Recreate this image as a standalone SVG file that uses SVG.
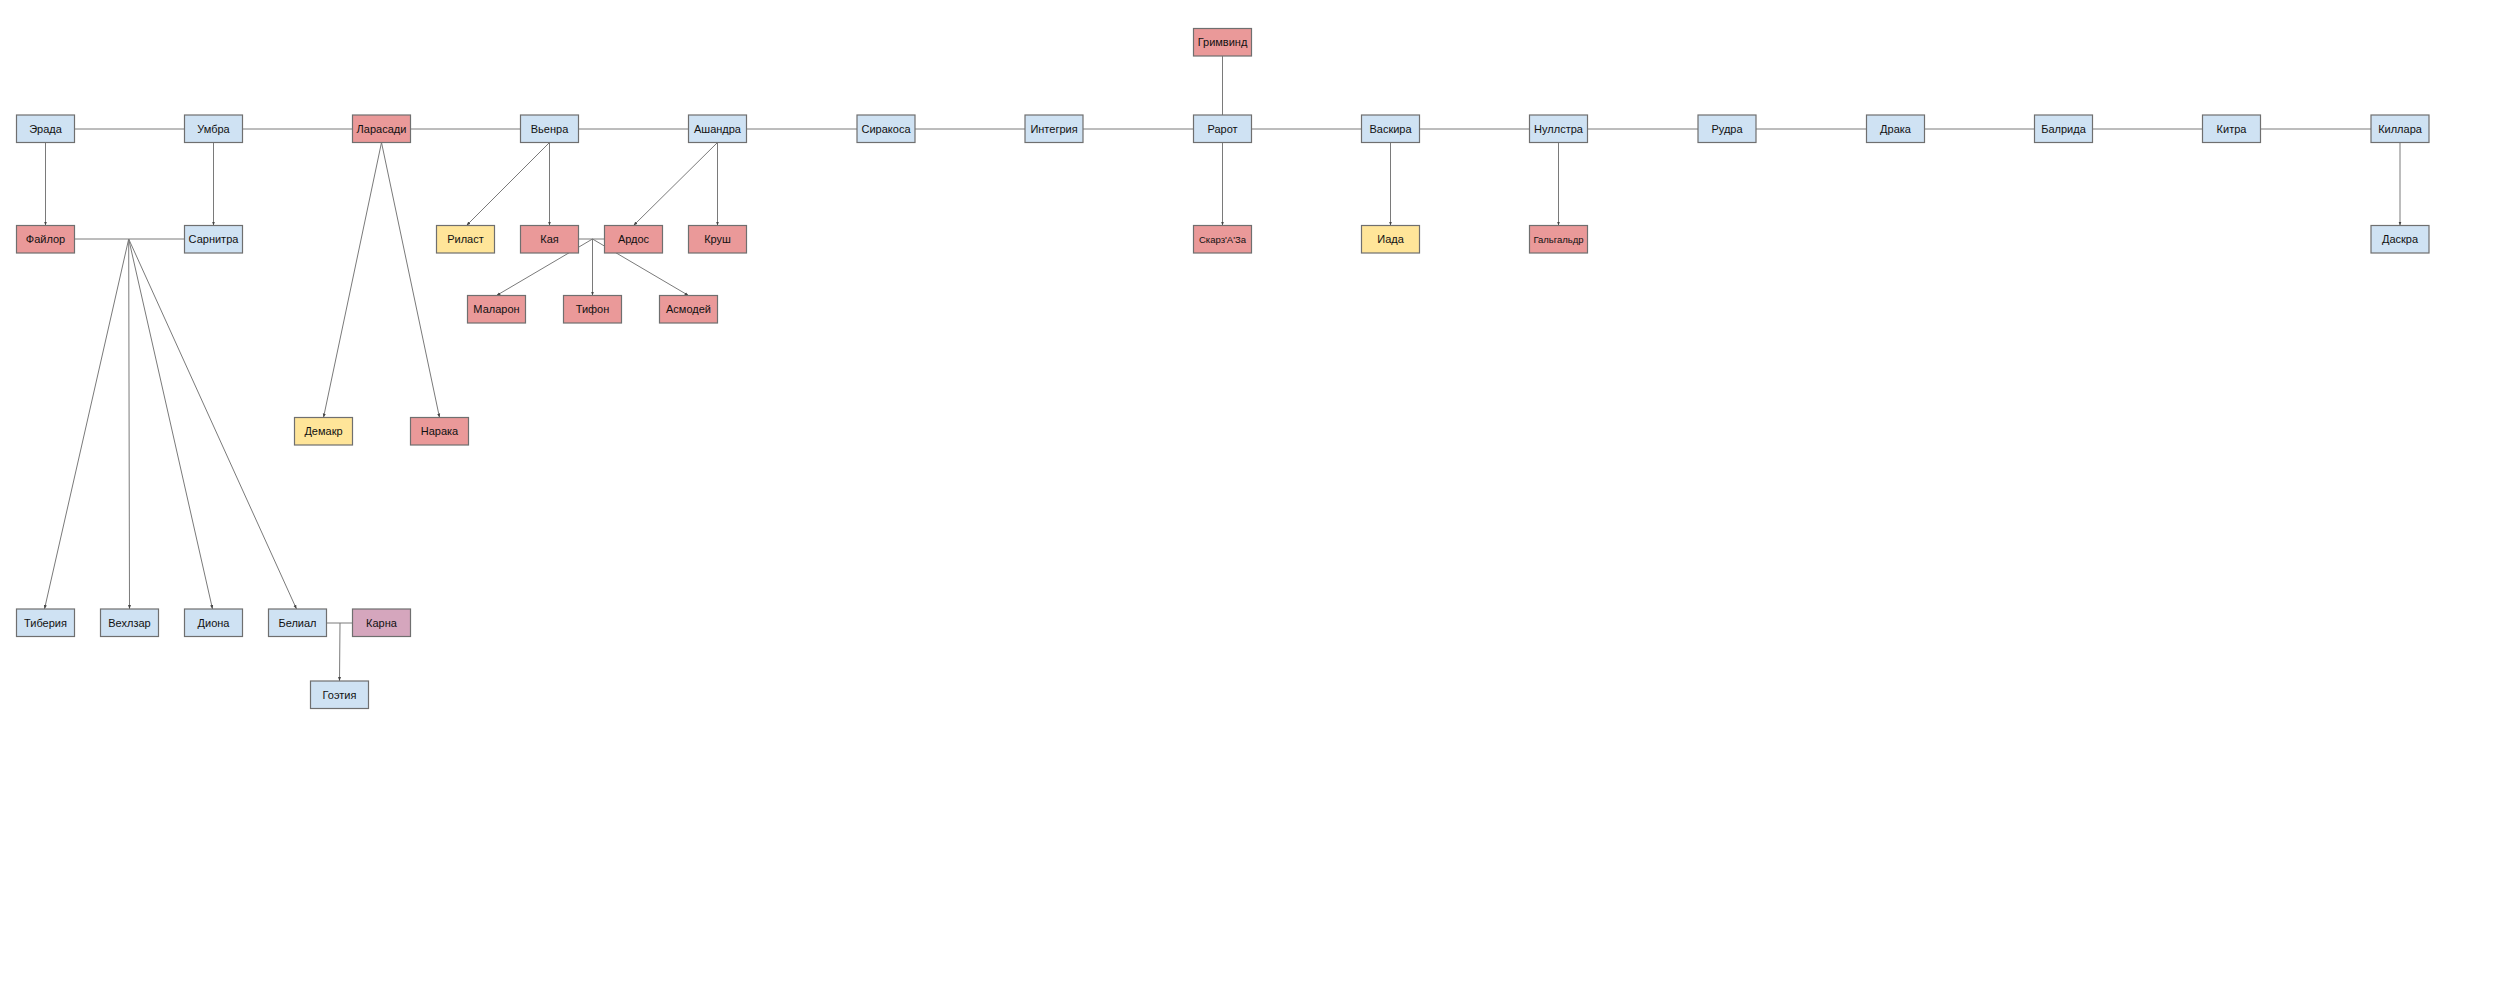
<svg xmlns="http://www.w3.org/2000/svg" width="2500" height="981" viewBox="0 0 2500 981">
<style>
.n rect{stroke:#6f6f6f;stroke-width:1.2}
.b rect{fill:#cfe2f3}
.r rect{fill:#ea9999}
.y rect{fill:#ffe599}
.p rect{fill:#d5a6bd}
.n text{font-family:"Liberation Sans",Arial,sans-serif;font-size:11px;fill:#111;text-anchor:middle;dominant-baseline:central}
.n text.s{font-size:9.5px}
#edges line{stroke:#7a7a7a;stroke-width:1}
#edges line.a{marker-end:url(#ah)}
</style>
<defs>
<marker id="ah" markerUnits="userSpaceOnUse" markerWidth="4" markerHeight="4" viewBox="0 0 4 4" refX="4" refY="2" orient="auto">
<path d="M0,0.5 L4,2 L0,3.5 Z" fill="#444"/>
</marker>
</defs>
<rect width="2500" height="981" fill="#fff"/>
<g id="edges">
<line x1="74.5" y1="129" x2="184.5" y2="129"/>
<line x1="242.5" y1="129" x2="352.5" y2="129"/>
<line x1="410.5" y1="129" x2="520.5" y2="129"/>
<line x1="578.5" y1="129" x2="688.5" y2="129"/>
<line x1="746.5" y1="129" x2="857" y2="129"/>
<line x1="915" y1="129" x2="1025" y2="129"/>
<line x1="1083" y1="129" x2="1193.5" y2="129"/>
<line x1="1251.5" y1="129" x2="1361.5" y2="129"/>
<line x1="1419.5" y1="129" x2="1529.5" y2="129"/>
<line x1="1587.5" y1="129" x2="1698" y2="129"/>
<line x1="1756" y1="129" x2="1866.5" y2="129"/>
<line x1="1924.5" y1="129" x2="2034.5" y2="129"/>
<line x1="2092.5" y1="129" x2="2202.5" y2="129"/>
<line x1="2260.5" y1="129" x2="2371" y2="129"/>
<line x1="1222.5" y1="56" x2="1222.5" y2="115"/>
<line class="a" x1="45.5" y1="142.5" x2="45.5" y2="225.5"/>
<line class="a" x1="213.5" y1="142.5" x2="213.5" y2="225.5"/>
<line x1="74.5" y1="239" x2="184.5" y2="239"/>
<line class="a" x1="128.7" y1="239" x2="44.5" y2="609"/>
<line class="a" x1="128.7" y1="239" x2="129.5" y2="609"/>
<line class="a" x1="128.7" y1="239" x2="212.5" y2="609"/>
<line class="a" x1="128.7" y1="239" x2="296.5" y2="609"/>
<line class="a" x1="381.5" y1="142.5" x2="323.5" y2="417.5"/>
<line class="a" x1="381.5" y1="142.5" x2="439.5" y2="417.5"/>
<line class="a" x1="549.5" y1="142.5" x2="466.5" y2="225.5"/>
<line class="a" x1="549.5" y1="142.5" x2="549.5" y2="225.5"/>
<line class="a" x1="717.5" y1="142.5" x2="633.5" y2="225.5"/>
<line class="a" x1="717.5" y1="142.5" x2="717.5" y2="225.5"/>
<line x1="578.5" y1="239" x2="604.5" y2="239"/>
<line class="a" x1="592.5" y1="239" x2="496.5" y2="295.5"/>
<line class="a" x1="592.5" y1="239" x2="592.5" y2="295.5"/>
<line class="a" x1="592.5" y1="239" x2="688.5" y2="295.5"/>
<line class="a" x1="1222.5" y1="142.5" x2="1222.5" y2="225.5"/>
<line class="a" x1="1390.5" y1="142.5" x2="1390.5" y2="225.5"/>
<line class="a" x1="1558.5" y1="142.5" x2="1558.5" y2="225.5"/>
<line class="a" x1="2400" y1="142.5" x2="2400" y2="225.5"/>
<line x1="326.5" y1="623" x2="352.5" y2="623"/>
<line class="a" x1="340" y1="623" x2="339.5" y2="681"/>
</g>
<g id="n-grimvind" class="n r"><rect x="1193.5" y="28.5" width="58" height="27.5"/><text x="1222.5" y="42.3">Гримвинд</text></g>
<g id="n-erada" class="n b"><rect x="16.5" y="115" width="58" height="27.5"/><text x="45.5" y="128.8">Эрада</text></g>
<g id="n-umbra" class="n b"><rect x="184.5" y="115" width="58" height="27.5"/><text x="213.5" y="128.8">Умбра</text></g>
<g id="n-larasadi" class="n r"><rect x="352.5" y="115" width="58" height="27.5"/><text x="381.5" y="128.8">Ларасади</text></g>
<g id="n-vyenra" class="n b"><rect x="520.5" y="115" width="58" height="27.5"/><text x="549.5" y="128.8">Вьенра</text></g>
<g id="n-ashandra" class="n b"><rect x="688.5" y="115" width="58" height="27.5"/><text x="717.5" y="128.8">Ашандра</text></g>
<g id="n-sirakosa" class="n b"><rect x="857" y="115" width="58" height="27.5"/><text x="886" y="128.8">Сиракоса</text></g>
<g id="n-integria" class="n b"><rect x="1025" y="115" width="58" height="27.5"/><text x="1054" y="128.8">Интегрия</text></g>
<g id="n-rarot" class="n b"><rect x="1193.5" y="115" width="58" height="27.5"/><text x="1222.5" y="128.8">Рарот</text></g>
<g id="n-vaskira" class="n b"><rect x="1361.5" y="115" width="58" height="27.5"/><text x="1390.5" y="128.8">Васкира</text></g>
<g id="n-nullstra" class="n b"><rect x="1529.5" y="115" width="58" height="27.5"/><text x="1558.5" y="128.8">Нуллстра</text></g>
<g id="n-rudra" class="n b"><rect x="1698" y="115" width="58" height="27.5"/><text x="1727" y="128.8">Рудра</text></g>
<g id="n-draka" class="n b"><rect x="1866.5" y="115" width="58" height="27.5"/><text x="1895.5" y="128.8">Драка</text></g>
<g id="n-balrida" class="n b"><rect x="2034.5" y="115" width="58" height="27.5"/><text x="2063.5" y="128.8">Балрида</text></g>
<g id="n-kitra" class="n b"><rect x="2202.5" y="115" width="58" height="27.5"/><text x="2231.5" y="128.8">Китра</text></g>
<g id="n-killara" class="n b"><rect x="2371" y="115" width="58" height="27.5"/><text x="2400" y="128.8">Киллара</text></g>
<g id="n-faylor" class="n r"><rect x="16.5" y="225.5" width="58" height="27.5"/><text x="45.5" y="239.3">Файлор</text></g>
<g id="n-sarnitra" class="n b"><rect x="184.5" y="225.5" width="58" height="27.5"/><text x="213.5" y="239.3">Сарнитра</text></g>
<g id="n-rilast" class="n y"><rect x="436.5" y="225.5" width="58" height="27.5"/><text x="465.5" y="239.3">Риласт</text></g>
<g id="n-kaya" class="n r"><rect x="520.5" y="225.5" width="58" height="27.5"/><text x="549.5" y="239.3">Кая</text></g>
<g id="n-ardos" class="n r"><rect x="604.5" y="225.5" width="58" height="27.5"/><text x="633.5" y="239.3">Ардос</text></g>
<g id="n-krush" class="n r"><rect x="688.5" y="225.5" width="58" height="27.5"/><text x="717.5" y="239.3">Круш</text></g>
<g id="n-skarz" class="n r"><rect x="1193.5" y="225.5" width="58" height="27.5"/><text class="s" x="1222.5" y="239.3">Скарз'А'За</text></g>
<g id="n-iada" class="n y"><rect x="1361.5" y="225.5" width="58" height="27.5"/><text x="1390.5" y="239.3">Иада</text></g>
<g id="n-galgaldr" class="n r"><rect x="1529.5" y="225.5" width="58" height="27.5"/><text class="s" x="1558.5" y="239.3">Гальгальдр</text></g>
<g id="n-daskra" class="n b"><rect x="2371" y="225.5" width="58" height="27.5"/><text x="2400" y="239.3">Даскра</text></g>
<g id="n-malaron" class="n r"><rect x="467.5" y="295.5" width="58" height="27.5"/><text x="496.5" y="309.3">Маларон</text></g>
<g id="n-tifon" class="n r"><rect x="563.5" y="295.5" width="58" height="27.5"/><text x="592.5" y="309.3">Тифон</text></g>
<g id="n-asmodey" class="n r"><rect x="659.5" y="295.5" width="58" height="27.5"/><text x="688.5" y="309.3">Асмодей</text></g>
<g id="n-demakr" class="n y"><rect x="294.5" y="417.5" width="58" height="27.5"/><text x="323.5" y="431.3">Демакр</text></g>
<g id="n-naraka" class="n r"><rect x="410.5" y="417.5" width="58" height="27.5"/><text x="439.5" y="431.3">Нарака</text></g>
<g id="n-tiberia" class="n b"><rect x="16.5" y="609" width="58" height="27.5"/><text x="45.5" y="622.8">Тиберия</text></g>
<g id="n-vekhlzar" class="n b"><rect x="100.5" y="609" width="58" height="27.5"/><text x="129.5" y="622.8">Вехлзар</text></g>
<g id="n-diona" class="n b"><rect x="184.5" y="609" width="58" height="27.5"/><text x="213.5" y="622.8">Диона</text></g>
<g id="n-belial" class="n b"><rect x="268.5" y="609" width="58" height="27.5"/><text x="297.5" y="622.8">Белиал</text></g>
<g id="n-karna" class="n p"><rect x="352.5" y="609" width="58" height="27.5"/><text x="381.5" y="622.8">Карна</text></g>
<g id="n-goetia" class="n b"><rect x="310.5" y="681" width="58" height="27.5"/><text x="339.5" y="694.8">Гоэтия</text></g>
</svg>
